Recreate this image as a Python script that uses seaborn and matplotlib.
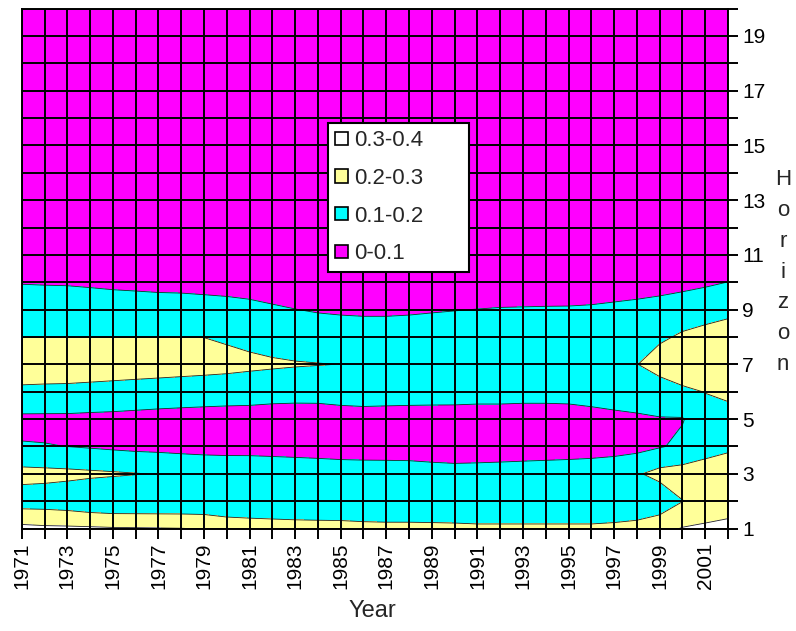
import numpy as np
import pandas as pd
import matplotlib
matplotlib.use("Agg")
import matplotlib.pyplot as plt
import seaborn as sns
from matplotlib.patches import Patch

# ---------------- data ----------------
years = list(range(1971, 2003))
horizons = list(range(1, 21))

h1 = [0.326, 0.318, 0.316, 0.313, 0.308, 0.306, 0.304, 0.302, 0.295, 0.265, 0.255,
      0.248, 0.242, 0.239, 0.237, 0.230, 0.227, 0.227, 0.225, 0.2225, 0.218, 0.218,
      0.218, 0.218, 0.218, 0.218, 0.225, 0.239, 0.270, 0.305, 0.320, 0.334]
h2 = [0.151, 0.150, 0.140, 0.120, 0.110, 0.110, 0.110, 0.110, 0.110, 0.110, 0.110,
      0.110, 0.110, 0.110, 0.110, 0.110, 0.110, 0.110, 0.110, 0.110, 0.110, 0.110,
      0.110, 0.110, 0.110, 0.110, 0.110, 0.110, 0.130, 0.198, 0.220, 0.240]
h3 = [0.232, 0.227, 0.222, 0.216, 0.210, 0.203, 0.197, 0.185, 0.180, 0.160, 0.155,
      0.150, 0.145, 0.140, 0.140, 0.135, 0.135, 0.135, 0.130, 0.130, 0.130, 0.130,
      0.130, 0.133, 0.135, 0.140, 0.150, 0.190, 0.230, 0.240, 0.230, 0.240]
h4 = [0.105, 0.103, 0.0995, 0.092, 0.084, 0.077, 0.073, 0.069, 0.064, 0.070, 0.072,
      0.071, 0.070, 0.069, 0.063, 0.065, 0.064, 0.062, 0.059, 0.051, 0.055, 0.060,
      0.065, 0.066, 0.068, 0.069, 0.071, 0.070, 0.093, 0.119, 0.175, 0.188]
h5 = [0.080, 0.080, 0.080, 0.078, 0.077, 0.075, 0.074, 0.072, 0.070, 0.070, 0.068,
      0.066, 0.065, 0.062, 0.060, 0.060, 0.060, 0.060, 0.058, 0.056, 0.055, 0.055,
      0.055, 0.055, 0.058, 0.062, 0.070, 0.080, 0.095, 0.095, 0.150, 0.160]
h6 = [0.185, 0.182, 0.180, 0.170, 0.162, 0.153, 0.144, 0.140, 0.137, 0.1325, 0.132,
      0.127, 0.125, 0.128, 0.140, 0.147, 0.143, 0.140, 0.140, 0.141, 0.137, 0.137,
      0.133, 0.133, 0.134, 0.146, 0.161, 0.171, 0.157, 0.180, 0.203, 0.2225]
h7 = [0.245, 0.246, 0.247, 0.256, 0.257, 0.257, 0.256, 0.249, 0.242, 0.235, 0.223,
      0.215, 0.208, 0.203, 0.199, 0.180, 0.175, 0.172, 0.170, 0.168, 0.165, 0.165,
      0.165, 0.168, 0.170, 0.175, 0.185, 0.198, 0.235, 0.270, 0.250, 0.250]
h8 = [0.199, 0.199, 0.199, 0.199, 0.199, 0.199, 0.199, 0.199, 0.199, 0.186, 0.172,
      0.155, 0.141, 0.140, 0.140, 0.140, 0.140, 0.140, 0.140, 0.140, 0.140, 0.140,
      0.140, 0.142, 0.145, 0.150, 0.160, 0.170, 0.188, 0.210, 0.230, 0.240]
h9 = [0.150, 0.150, 0.148, 0.145, 0.140, 0.138, 0.135, 0.132, 0.130, 0.125, 0.120,
      0.110, 0.101, 0.0945, 0.090, 0.087, 0.087, 0.090, 0.0945, 0.098, 0.101, 0.104,
      0.105, 0.106, 0.107, 0.110, 0.115, 0.120, 0.130, 0.160, 0.163, 0.180]
h10 = [0.096, 0.094, 0.093, 0.089, 0.085, 0.082, 0.079, 0.079, 0.075, 0.073, 0.067,
       0.060, 0.060, 0.070, 0.070, 0.070, 0.070, 0.072, 0.074, 0.076, 0.051, 0.054,
       0.055, 0.056, 0.053, 0.054, 0.061, 0.067, 0.070, 0.068, 0.086, 0.101]
# horizons 11..20 lie entirely in the lowest band (0-0.1)
upper_levels = [0.070, 0.065, 0.060, 0.055, 0.050, 0.045, 0.040, 0.040, 0.035, 0.030]

levels = [0.0, 0.1, 0.2, 0.3, 0.4]
band_labels = ["0-0.1", "0.1-0.2", "0.2-0.3", "0.3-0.4"]
band_colors = ["#FF00FF", "#00FFFF", "#FFFF99", "#FFFFFF"]
year_tick_labels = [str(y) if (y - 1971) % 2 == 0 else "" for y in years]
horizon_tick_labels = [str(h) if h % 2 == 1 else "" for h in horizons]

rows = [h1, h2, h3, h4, h5, h6, h7, h8, h9, h10] + [[u] * len(years) for u in upper_levels]
df = pd.DataFrame(rows, index=horizons, columns=years)

# ---------------- style ----------------
sns.set_theme(style="white")
plt.rcParams['font.family'] = ['Liberation Sans', 'DejaVu Sans']

fig = plt.figure(figsize=(7.96, 6.31), dpi=100)
ax = fig.add_axes([0.0273, 0.1624, 0.8873, 0.824])

X, Y = np.meshgrid(df.columns.values, df.index.values)
ax.contourf(X, Y, df.values, levels=levels, colors=band_colors)
ax.contour(X, Y, df.values, levels=levels[1:-1], colors="#202020", linewidths=0.6)

ax.set_xlim(years[0], years[-1])
ax.set_ylim(horizons[0], horizons[-1])
ax.set_xticks(years)
ax.set_xticklabels(year_tick_labels, rotation=90)
ax.set_yticks(horizons)
ax.set_yticklabels(horizon_tick_labels)
ax.yaxis.tick_right()

ax.set_axisbelow(False)
ax.grid(True, color="black", linewidth=1.4)
for s in ax.spines.values():
    s.set_color("black")
    s.set_linewidth(1.4)
ax.tick_params(axis="both", which="both", direction="out", length=7, width=1.4,
               color="black", labelcolor="black", labelsize=15, pad=3,
               bottom=True, right=True, left=False, top=False)

# axis titles
fig.text(372 / 796, 1 - 611 / 631, "Year", ha="center", va="center", fontsize=17)
fig.text(783 / 796, 1 - 272 / 631, "\n".join("Horizon"), ha="center", va="center",
         fontsize=16, linespacing=1.62)

# legend (highest band on top)
handles = [Patch(facecolor=c, edgecolor="black", linewidth=1.2)
           for c in band_colors[::-1]]
leg = ax.legend(handles, band_labels[::-1], loc="upper left",
                bbox_to_anchor=(0.4337, 0.501, 0.199, 0.279), mode="expand",
                alignment="right", frameon=True, fancybox=False, shadow=False,
                fontsize=16, handlelength=0.55, handleheight=0.55,
                handletextpad=0.3, labelspacing=0.75, borderpad=0.33,
                borderaxespad=0.0)
leg.get_frame().set_edgecolor("black")
leg.get_frame().set_linewidth(1.5)
leg.get_frame().set_facecolor("white")
leg.get_frame().set_alpha(1.0)

fig.savefig("out.png", dpi=100)
